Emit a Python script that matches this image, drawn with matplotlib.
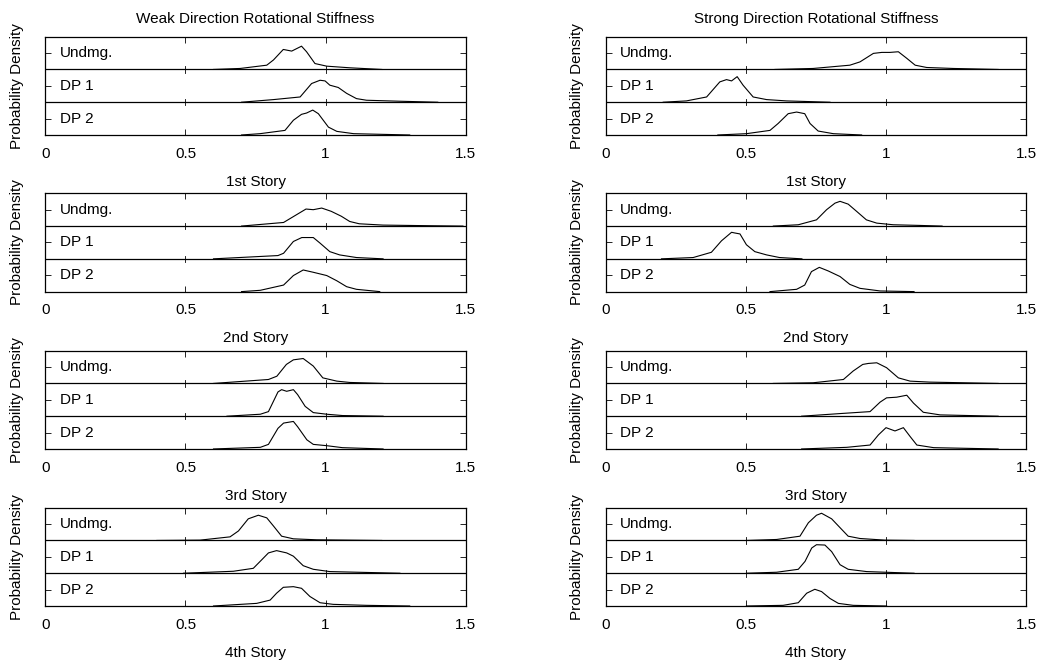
import matplotlib
matplotlib.use("Agg")
import matplotlib.pyplot as plt

plt.rcParams['font.family'] = ['Liberation Sans', 'DejaVu Sans']
plt.rcParams['font.size'] = 11

# x = normalized stiffness, h = density scaled to the band height
cases = ["Undmg.", "DP 1", "DP 2"]
stories = ["1st Story", "2nd Story", "3rd Story", "4th Story"]
titles = ["Weak Direction Rotational Stiffness", "Strong Direction Rotational Stiffness"]
xticks = [0, 0.5, 1, 1.5]
xtick_labels = ["0", "0.5", "1", "1.5"]

# ---- weak direction ----
weak_1_undmg = [(0.60, 0), (0.695, 0.03), (0.79, 0.13), (0.814, 0.29), (0.849, 0.61), (0.879, 0.56),
                (0.914, 0.71), (0.932, 0.54), (0.962, 0.18), (1.004, 0.10), (1.087, 0.05), (1.20, 0)]
weak_1_dp1 = [(0.70, 0), (0.814, 0.08), (0.909, 0.16), (0.95, 0.57), (0.98, 0.67), (0.998, 0.65),
              (1.015, 0.52), (1.045, 0.45), (1.075, 0.27), (1.11, 0.11), (1.146, 0.06), (1.265, 0.03), (1.40, 0)]
weak_1_dp2 = [(0.70, 0), (0.766, 0.04), (0.855, 0.14), (0.885, 0.45), (0.914, 0.63), (0.932, 0.67),
              (0.954, 0.76), (0.974, 0.65), (1.01, 0.24), (1.04, 0.11), (1.10, 0.04), (1.30, 0)]

weak_2_undmg = [(0.70, 0), (0.85, 0.11), (0.93, 0.52), (0.956, 0.50), (0.986, 0.55), (1.02, 0.45),
                (1.056, 0.30), (1.086, 0.14), (1.12, 0.07), (1.205, 0.03), (1.38, 0.01), (1.49, 0)]
weak_2_dp1 = [(0.60, 0), (0.83, 0.10), (0.85, 0.17), (0.885, 0.53), (0.915, 0.65), (0.956, 0.65),
              (0.98, 0.48), (1.015, 0.22), (1.05, 0.12), (1.11, 0.04), (1.205, 0)]
weak_2_dp2 = [(0.70, 0), (0.767, 0.04), (0.85, 0.20), (0.885, 0.49), (0.92, 0.66), (0.956, 0.59),
              (1.004, 0.49), (1.04, 0.33), (1.075, 0.15), (1.11, 0.07), (1.193, 0)]

weak_3_undmg = [(0.60, 0), (0.796, 0.12), (0.826, 0.22), (0.86, 0.58), (0.885, 0.72), (0.92, 0.76),
                (0.956, 0.53), (0.99, 0.17), (1.04, 0.07), (1.086, 0.03), (1.205, 0)]
weak_3_dp1 = [(0.648, 0), (0.767, 0.06), (0.796, 0.14), (0.83, 0.74), (0.843, 0.81), (0.861, 0.76),
              (0.885, 0.81), (0.90, 0.66), (0.927, 0.30), (0.956, 0.11), (1.004, 0.06), (1.06, 0.02), (1.205, 0)]
weak_3_dp2 = [(0.60, 0), (0.767, 0.05), (0.796, 0.14), (0.83, 0.63), (0.85, 0.79), (0.885, 0.84),
              (0.90, 0.68), (0.933, 0.28), (0.956, 0.14), (1.004, 0.10), (1.06, 0.04), (1.205, 0)]

weak_4_undmg = [(0.398, 0), (0.552, 0.01), (0.659, 0.11), (0.689, 0.29), (0.724, 0.66), (0.76, 0.77),
                (0.79, 0.69), (0.814, 0.44), (0.843, 0.13), (0.885, 0.05), (0.968, 0.02), (1.20, 0)]
weak_4_dp1 = [(0.493, 0), (0.671, 0.06), (0.742, 0.15), (0.772, 0.41), (0.796, 0.62), (0.825, 0.69),
              (0.861, 0.62), (0.885, 0.52), (0.92, 0.23), (0.956, 0.12), (1.015, 0.05), (1.265, 0)]
weak_4_dp2 = [(0.60, 0), (0.754, 0.08), (0.802, 0.18), (0.825, 0.39), (0.849, 0.57), (0.885, 0.59),
              (0.914, 0.54), (0.944, 0.29), (0.98, 0.10), (1.027, 0.05), (1.146, 0.02), (1.30, 0)]

# ---- strong direction ----
strong_1_undmg = [(0.604, 0), (0.74, 0.03), (0.871, 0.13), (0.907, 0.23), (0.955, 0.49), (0.985, 0.52),
                  (1.014, 0.52), (1.044, 0.54), (1.074, 0.34), (1.104, 0.13), (1.145, 0.06), (1.24, 0.03), (1.40, 0)]
strong_1_dp1 = [(0.205, 0), (0.288, 0.04), (0.36, 0.16), (0.407, 0.62), (0.431, 0.69), (0.449, 0.65),
                (0.469, 0.78), (0.49, 0.52), (0.526, 0.16), (0.574, 0.08), (0.645, 0.04), (0.80, 0)]
strong_1_dp2 = [(0.40, 0), (0.502, 0.04), (0.586, 0.14), (0.615, 0.35), (0.651, 0.65), (0.681, 0.70),
                (0.71, 0.65), (0.729, 0.35), (0.758, 0.12), (0.812, 0.04), (0.913, 0)]

strong_2_undmg = [(0.598, 0), (0.687, 0.04), (0.752, 0.19), (0.788, 0.50), (0.818, 0.70), (0.836, 0.755),
                  (0.865, 0.67), (0.895, 0.45), (0.93, 0.19), (0.967, 0.09), (1.026, 0.04), (1.12, 0.02), (1.20, 0)]
strong_2_dp1 = [(0.199, 0), (0.312, 0.04), (0.377, 0.20), (0.413, 0.55), (0.449, 0.81), (0.46, 0.79),
                (0.479, 0.76), (0.502, 0.43), (0.532, 0.22), (0.574, 0.12), (0.62, 0.04), (0.70, 0)]
strong_2_dp2 = [(0.586, 0), (0.681, 0.07), (0.71, 0.20), (0.734, 0.61), (0.762, 0.74), (0.794, 0.63),
                (0.836, 0.46), (0.871, 0.22), (0.907, 0.10), (0.979, 0.02), (1.10, 0)]

strong_3_undmg = [(0.598, 0), (0.74, 0.02), (0.848, 0.12), (0.883, 0.38), (0.917, 0.58), (0.937, 0.61),
                  (0.967, 0.63), (1.002, 0.48), (1.044, 0.17), (1.086, 0.07), (1.157, 0.04), (1.40, 0)]
strong_3_dp1 = [(0.699, 0), (0.836, 0.08), (0.943, 0.14), (0.979, 0.43), (1.002, 0.56), (1.038, 0.58),
                (1.074, 0.64), (1.098, 0.40), (1.133, 0.12), (1.193, 0.04), (1.40, 0)]
strong_3_dp2 = [(0.699, 0), (0.86, 0.05), (0.943, 0.12), (0.973, 0.43), (1.0, 0.65), (1.032, 0.55),
                (1.062, 0.65), (1.086, 0.38), (1.11, 0.12), (1.17, 0.04), (1.40, 0)]

strong_4_undmg = [(0.502, 0), (0.61, 0.03), (0.693, 0.13), (0.723, 0.54), (0.752, 0.77), (0.77, 0.83),
                  (0.806, 0.66), (0.836, 0.39), (0.865, 0.13), (0.907, 0.06), (0.996, 0.01), (1.10, 0)]
strong_4_dp1 = [(0.502, 0), (0.61, 0.03), (0.687, 0.12), (0.711, 0.36), (0.735, 0.77), (0.752, 0.87),
                (0.782, 0.86), (0.806, 0.66), (0.836, 0.26), (0.865, 0.12), (0.931, 0.05), (1.10, 0)]
strong_4_dp2 = [(0.502, 0), (0.633, 0.02), (0.687, 0.10), (0.717, 0.39), (0.746, 0.51), (0.77, 0.44),
                (0.80, 0.23), (0.83, 0.08), (0.883, 0.02), (1.002, 0)]

weak = [[weak_1_undmg, weak_1_dp1, weak_1_dp2],
        [weak_2_undmg, weak_2_dp1, weak_2_dp2],
        [weak_3_undmg, weak_3_dp1, weak_3_dp2],
        [weak_4_undmg, weak_4_dp1, weak_4_dp2]]
strong = [[strong_1_undmg, strong_1_dp1, strong_1_dp2],
          [strong_2_undmg, strong_2_dp1, strong_2_dp2],
          [strong_3_undmg, strong_3_dp1, strong_3_dp2],
          [strong_4_undmg, strong_4_dp1, strong_4_dp2]]

fig = plt.figure(figsize=(10.42, 6.62), dpi=100)

col_left = [0.0435, 0.5813]
col_w = 0.4035
row_bottom = [0.7961, 0.5595, 0.3218, 0.0846]
row_h = 0.1485

for c, panels in enumerate([weak, strong]):
    for r in range(4):
        ax = fig.add_axes([col_left[c], row_bottom[r], col_w, row_h])
        ax.set_xlim(0, 1.5)
        ax.set_ylim(0, 3)
        nb = len(cases)
        for k, curve in enumerate(panels[r]):
            base = nb - 1 - k
            xs = [p[0] for p in curve]
            ys = [base + p[1] for p in curve]
            ax.plot(xs, ys, color='black', lw=0.8)
            ax.text(0.052, base + 0.5, cases[k], va='center', ha='left', fontsize=11)
        # band separators with ticks crossing them
        for yb in range(1, nb):
            ax.axhline(yb, color='black', lw=0.9)
            for xt in xticks[1:-1]:
                ax.plot([xt, xt], [yb - 0.1, yb + 0.1], color='black', lw=0.6)
        ax.set_xticks(xticks)
        ax.set_xticklabels(xtick_labels)
        ax.set_yticks([0.5, 1.5, 2.5])
        ax.set_yticklabels([])
        ax.tick_params(direction='in', top=True, right=True, length=4, width=0.6, pad=8.5, labelsize=11)
        for s in ax.spines.values():
            s.set_linewidth(0.9)
        ax.set_xlabel(stories[r], labelpad=10)
        ax.set_ylabel("Probability Density", labelpad=7)
        if r == 0:
            ax.set_title(titles[c], fontsize=11, pad=10)

fig.savefig("out.png", dpi=100)
